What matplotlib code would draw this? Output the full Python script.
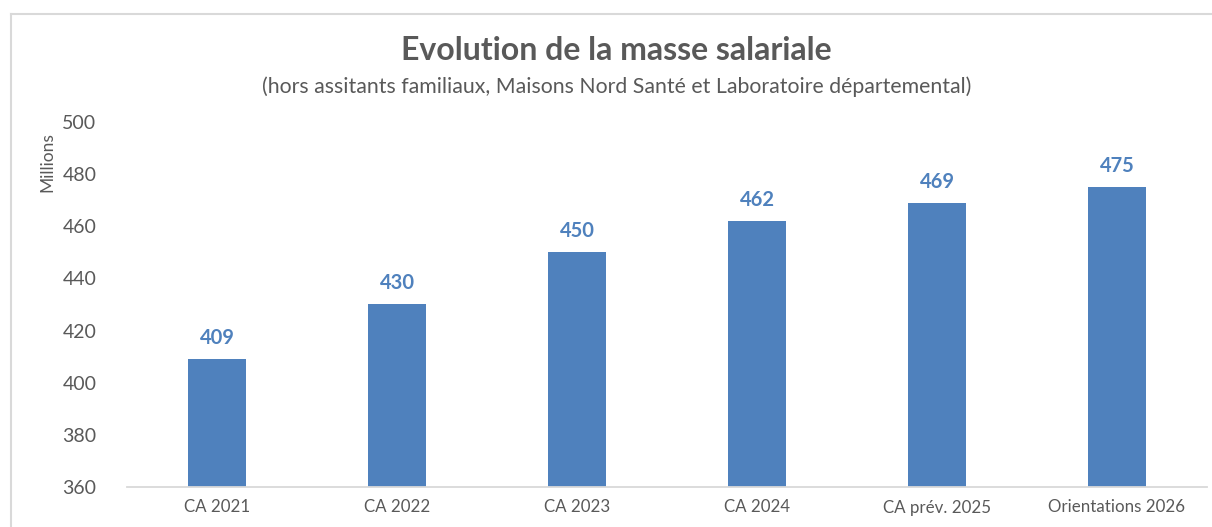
import matplotlib
matplotlib.use("Agg")
import matplotlib.pyplot as plt
from matplotlib.lines import Line2D

categories = ["CA 2021", "CA 2022", "CA 2023", "CA 2024", "CA prév. 2025", "Orientations 2026"]
values = [409, 430, 450, 462, 469, 475]
yticks = [360, 380, 400, 420, 440, 460, 480, 500]

W, H = 1212, 527
fig = plt.figure(figsize=(W / 100, H / 100), dpi=100)
plt.rcParams['font.family'] = ['Lato', 'DejaVu Sans']

bar_color = "#4F81BD"
text_gray = "#595959"

ax = fig.add_axes([127 / W, 1 - 487 / H, (1207 - 127) / W, (487 - 122) / H])
x = list(range(len(categories)))
ax.bar(x, values, width=0.32, color=bar_color, zorder=2)
ax.set_xlim(-0.5, len(categories) - 0.5)
ax.set_ylim(360, 500)
ax.set_yticks(yticks)
ax.set_xticks(x)
ax.set_xticklabels(categories)
for s in ["top", "right", "left"]:
    ax.spines[s].set_visible(False)
ax.spines["bottom"].set_color("#D9D9D9")
ax.spines["bottom"].set_linewidth(1.3)
ax.tick_params(axis="both", length=0, colors=text_gray)
ax.tick_params(axis="y", pad=22, labelsize=14)
ax.tick_params(axis="x", pad=9, labelsize=12.2)
for xi, v in zip(x, values):
    ax.annotate(f"{v}", (xi, v), xytext=(0, 8), textcoords="offset points",
                ha="center", va="bottom", color=bar_color, fontsize=14.5, fontweight="bold")

fig.text(47 / W, 1 - 162 / H, "Millions", rotation=90, ha="center", va="center",
         color=text_gray, fontsize=12.5)

fig.text(616 / W, 1 - 50 / H, "Evolution de la masse salariale", ha="center", va="center",
         color=text_gray, fontsize=23, fontweight="bold")
fig.text(617 / W, 1 - 87 / H,
         "(hors assitants familiaux, Maisons Nord Santé et Laboratoire départemental)",
         ha="center", va="center", color=text_gray, fontsize=15.3)

# chart frame
frame_color = "#D9D9D9"
fig.add_artist(Line2D([10.5 / W, 1], [1 - 14 / H, 1 - 14 / H], color=frame_color, lw=1.5,
                      transform=fig.transFigure))
fig.add_artist(Line2D([10.5 / W, 10.5 / W], [0, 1 - 14 / H], color=frame_color, lw=1.5,
                      transform=fig.transFigure))

fig.savefig("out.png", dpi=100)
